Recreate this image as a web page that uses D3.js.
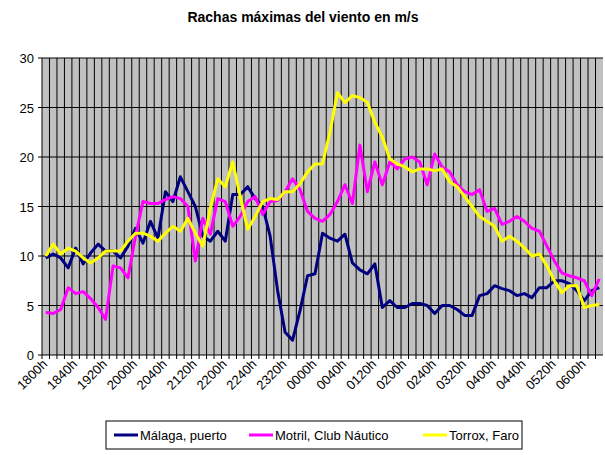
<!DOCTYPE html>
<html>
<head>
<meta charset="utf-8">
<script src="https://cdn.jsdelivr.net/npm/d3@7"></script>
<style>
  body { margin: 0; background: #fff; }
  text { font-family: Arial, "Liberation Sans", sans-serif; }
</style>
</head>
<body>
<div id="chart-area"></div>
<script>
// 10-minute steps from 1800h
const categories = d3.range(75).map(i => {
  const m = 18 * 60 + i * 10
  const h = Math.floor(m / 60) % 24, mm = m % 60
  return String(h).padStart(2, "0") + String(mm).padStart(2, "0") + "h"
})
const tickLabels = ["1800h","1840h","1920h","2000h","2040h","2120h","2200h","2240h","2320h","0000h",
  "0040h","0120h","0200h","0240h","0320h","0400h","0440h","0520h","0600h"]
const yTicks = [0, 5, 10, 15, 20, 25, 30]

const malaga = [9.8,10.2,9.8,8.8,10.8,9.2,10.3,11.2,10.5,10.5,9.8,11,12.8,11.3,13.5,11.8,16.5,15.5,18,16.5,
  15,12,11.5,12.5,11.5,16.2,16.2,17,15.8,15,12,6.5,2.3,1.5,4.5,8,8.2,12.3,11.8,11.5,
  12.2,9.3,8.6,8.2,9.2,4.8,5.5,4.8,4.8,5.2,5.2,5,4.2,5,5,4.6,4,4,6,6.2,
  7,6.7,6.5,6,6.2,5.8,6.8,6.8,7.5,7.5,7.2,6.5,5.5,6.5,6.8]
const motril = [4.3,4.2,4.6,6.8,6.2,6.4,5.7,4.8,3.6,9,8.8,7.8,12,15.5,15.3,15.3,15.7,16,15.8,15,
  9.5,13.8,12.2,15.8,15.5,13,14,15.5,16,14.2,15.5,15.6,16.5,17.8,16.7,14.5,13.8,13.5,14.2,15.5,
  17.2,15.3,21.2,16.5,19.5,17.2,19.5,18.8,19.8,20,19.5,17.2,20.3,19,18.5,17.2,16.5,16.2,16.7,14.5,
  14.8,13.2,13.5,14,13.5,12.8,12.5,11,9.5,8.3,8,7.8,7.5,6,7.7]
const torrox = [10,11.2,10.2,10.8,10.5,9.8,9.3,9.8,10.5,10.5,10.5,11.5,12.3,12.3,12,11.5,12.3,13,12.5,13.8,
  12.3,11,14.8,17.8,17,19.5,16,12.7,14,15.5,15.8,15.7,16.5,16.5,17.3,18.5,19.3,19.3,22.5,26.5,
  25.5,26.2,26,25.5,23.5,22,19.8,19.3,19,18.5,18.8,18.8,18.6,18.8,17.5,17,16,15,14,13.5,
  13,11.5,12,11.5,10.8,10,10.2,9,7.5,6.3,7,7,4.8,5,5.1]

const series = [
  { name: "Málaga, puerto", values: malaga, color: "#000080" },
  { name: "Motril, Club Náutico", values: motril, color: "#FF00FF" },
  { name: "Torrox, Faro", values: torrox, color: "#FFFF00" }
]

const W = 605, H = 455
const MARGIN = { LEFT: 42, RIGHT: 2, TOP: 58, BOTTOM: 100 }
const WIDTH = W - MARGIN.LEFT - MARGIN.RIGHT
const HEIGHT = H - MARGIN.TOP - MARGIN.BOTTOM

const svg = d3.select("#chart-area").append("svg")
  .attr("width", W)
  .attr("height", H)

svg.append("text")
  .attr("x", 303).attr("y", 22)
  .attr("text-anchor", "middle")
  .attr("font-size", "14px")
  .attr("font-weight", "bold")
  .text("Rachas máximas del viento en m/s")

const g = svg.append("g")
  .attr("transform", `translate(${MARGIN.LEFT}, ${MARGIN.TOP})`)

const x = d3.scaleBand().domain(categories).range([0, WIDTH])
const y = d3.scaleLinear().domain([0, 30]).range([HEIGHT, 0])

g.append("rect")
  .attr("width", WIDTH).attr("height", HEIGHT)
  .attr("fill", "#C0C0C0")

// vertical grid at category boundaries
g.selectAll(".vgrid").data(categories.slice(1))
  .enter().append("line")
  .attr("x1", d => x(d)).attr("x2", d => x(d))
  .attr("y1", 0).attr("y2", HEIGHT + 4)
  .attr("stroke", "#000").attr("stroke-width", 1)

// horizontal grid
g.selectAll(".hgrid").data(yTicks)
  .enter().append("line")
  .attr("x1", -4).attr("x2", WIDTH)
  .attr("y1", d => y(d)).attr("y2", d => y(d))
  .attr("stroke", "#000").attr("stroke-width", 1)

g.append("line")
  .attr("x1", 0).attr("x2", 0).attr("y1", 0).attr("y2", HEIGHT + 4)
  .attr("stroke", "#000")

// Y labels
g.selectAll(".ylab").data(yTicks)
  .enter().append("text")
  .attr("x", -8).attr("y", d => y(d) + 5)
  .attr("text-anchor", "end")
  .attr("font-size", "13px")
  .text(d => d)

// X labels
g.selectAll(".xlab").data(tickLabels)
  .enter().append("text")
  .attr("text-anchor", "end")
  .attr("font-size", "13px")
  .attr("transform", d => {
    const i = categories.indexOf(d)
    const cx = x.bandwidth() * i + 6
    return `translate(${cx}, ${HEIGHT + 10}) rotate(-45)`
  })
  .text(d => d)

const line = d3.line()
  .x((d, i) => x(categories[i]) + x.bandwidth() / 2)
  .y(d => y(d))

series.forEach(s => {
  g.append("path")
    .attr("d", line(s.values))
    .attr("fill", "none")
    .attr("stroke", s.color)
    .attr("stroke-width", 3)
    .attr("stroke-linejoin", "round")
})

// legend
const lg = svg.append("g").attr("transform", "translate(106, 421)")
lg.append("rect")
  .attr("width", 416).attr("height", 28)
  .attr("fill", "#fff").attr("stroke", "#000")
const offsets = [8, 143, 317]
series.forEach((s, i) => {
  lg.append("line")
    .attr("x1", offsets[i]).attr("x2", offsets[i] + 24)
    .attr("y1", 14).attr("y2", 14)
    .attr("stroke", s.color).attr("stroke-width", 3)
  lg.append("text")
    .attr("x", offsets[i] + 26).attr("y", 19)
    .attr("font-size", "13px")
    .text(s.name)
})
</script>
</body>
</html>
